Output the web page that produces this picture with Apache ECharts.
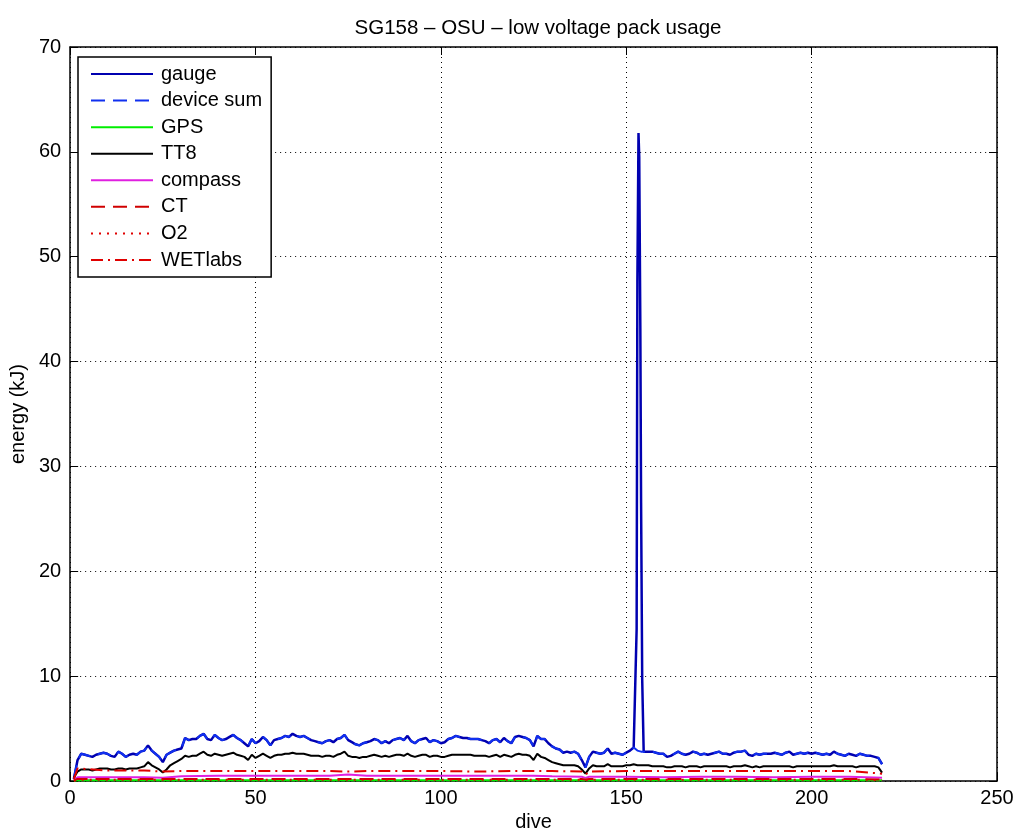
<!DOCTYPE html>
<html>
<head>
<meta charset="utf-8">
<script src="https://cdn.jsdelivr.net/npm/echarts@6/dist/echarts.min.js"></script>
<style>html,body{margin:0;padding:0;background:#fff}#c{width:1022px;height:839px}</style>
</head>
<body>
<div id="c"></div>
<script>
// gauge / device sum energy per dive (kJ), dives 1..219 (non-spike baseline)
const gaugeBase = [
0.2,2.0,2.6,2.5,2.4,2.3,2.5,2.6,2.7,2.6,2.4,2.3,2.8,2.6,2.3,2.5,2.6,2.5,2.8,2.9,
3.4,2.9,2.6,2.3,1.8,2.5,2.7,2.9,3.0,3.1,4.1,3.9,4.0,4.0,4.3,4.5,4.0,3.9,4.4,4.1,
3.9,4.0,4.2,4.4,4.1,3.9,3.6,3.3,4.0,3.6,3.8,4.2,3.9,3.4,3.9,4.0,4.1,4.3,4.2,4.5,
4.3,4.2,4.3,4.1,3.9,3.8,3.7,3.6,3.8,3.9,3.7,4.0,4.1,4.4,3.9,3.7,3.5,3.4,3.6,3.7,
3.8,4.0,3.9,3.6,3.8,3.6,3.9,4.0,4.1,3.9,4.3,3.8,3.6,3.9,4.0,4.1,3.7,3.9,3.8,3.6,
3.7,4.0,4.1,4.3,4.2,4.1,4.1,4.0,4.0,4.0,3.9,3.8,3.6,3.9,4.0,3.7,4.1,3.8,3.6,4.2,
4.3,4.2,4.1,3.9,3.3,4.3,4.0,4.0,3.6,3.3,3.1,3.0,2.7,2.8,2.7,2.8,2.6,2.0,1.3,2.3,
2.8,2.7,2.6,2.7,3.1,2.6,2.7,2.6,2.5,2.7,2.9,3.2,2.9,2.8,2.8,2.8,2.8,2.7,2.6,2.6,
2.3,2.4,2.6,2.8,2.6,2.5,2.6,2.8,2.7,2.5,2.6,2.5,2.6,2.7,2.8,2.6,2.6,2.5,2.7,2.8,
2.8,2.9,2.5,2.4,2.6,2.5,2.6,2.6,2.6,2.7,2.6,2.5,2.7,2.8,2.5,2.6,2.7,2.6,2.7,2.6,
2.7,2.6,2.5,2.6,2.5,2.8,2.6,2.5,2.4,2.6,2.5,2.4,2.6,2.5,2.4,2.4,2.3,2.2,1.6
];
// gauge spike around dive 153-154
const spikeDives = [152.8,152.9,153.0,153.3,153.5,153.8,154.0,154.3,154.7];
const spikeVals  = [14.5,31.4,47.6,61.8,59.5,43.0,26.5,9.7,2.8];
// TT8 per dive 1..219
const tt8 = [
0.3,0.9,1.1,1.1,1.1,1.0,1.1,1.2,1.2,1.2,1.1,1.1,1.2,1.2,1.1,1.2,1.2,1.2,1.3,1.4,
1.8,1.5,1.3,1.1,0.8,1.1,1.5,1.7,1.9,2.1,2.4,2.3,2.4,2.4,2.6,2.8,2.5,2.4,2.6,2.5,
2.4,2.5,2.6,2.7,2.5,2.4,2.3,2.0,2.5,2.2,2.4,2.6,2.4,2.2,2.4,2.5,2.5,2.6,2.6,2.7,
2.6,2.6,2.6,2.5,2.4,2.4,2.4,2.3,2.4,2.4,2.3,2.5,2.6,2.8,2.4,2.3,2.3,2.2,2.3,2.3,
2.4,2.5,2.4,2.3,2.4,2.3,2.4,2.5,2.5,2.4,2.6,2.4,2.3,2.4,2.5,2.5,2.3,2.4,2.4,2.3,
2.3,2.4,2.5,2.5,2.5,2.5,2.5,2.5,2.4,2.4,2.4,2.4,2.3,2.4,2.5,2.3,2.5,2.4,2.3,2.5,
2.6,2.5,2.5,2.4,2.0,2.6,2.3,2.2,2.0,1.8,1.7,1.6,1.5,1.5,1.5,1.5,1.4,1.1,0.7,1.2,
1.5,1.4,1.4,1.4,1.6,1.4,1.4,1.4,1.4,1.5,1.5,1.6,1.5,1.5,1.5,1.5,1.4,1.4,1.4,1.4,
1.3,1.3,1.4,1.4,1.4,1.3,1.4,1.4,1.4,1.3,1.4,1.4,1.4,1.4,1.4,1.4,1.4,1.3,1.4,1.4,
1.4,1.5,1.4,1.3,1.4,1.3,1.4,1.4,1.4,1.4,1.4,1.4,1.4,1.4,1.3,1.4,1.4,1.4,1.4,1.4,
1.4,1.4,1.4,1.4,1.4,1.5,1.4,1.4,1.4,1.4,1.4,1.3,1.4,1.4,1.4,1.4,1.4,1.3,0.8
];
// minor devices, read at selected dives
const minorDives = [1,2,10,20,25,30,40,50,60,70,75,80,90,100,110,120,125,130,138,139,140,150,160,170,180,190,200,210,219];
const compass = [0.1,0.35,0.35,0.35,0.3,0.45,0.5,0.5,0.5,0.5,0.62,0.5,0.5,0.5,0.5,0.5,0.5,0.45,0.4,0.3,0.4,0.4,0.35,0.4,0.4,0.35,0.4,0.4,0.3];
const wetlabs = [0.2,1.2,1.0,1.0,0.9,0.95,0.95,0.95,0.95,0.95,0.9,0.95,0.95,0.95,0.9,0.95,0.95,0.95,0.9,0.6,0.9,0.95,0.95,0.95,0.95,0.95,0.95,0.95,0.7];
const ct      = [0.05,0.2,0.2,0.2,0.2,0.2,0.2,0.2,0.2,0.2,0.2,0.2,0.2,0.2,0.2,0.2,0.2,0.2,0.2,0.15,0.2,0.2,0.2,0.2,0.2,0.2,0.2,0.2,0.15];
const o2      = [0.02,0.12,0.12,0.12,0.12,0.12,0.12,0.12,0.12,0.12,0.12,0.12,0.12,0.12,0.12,0.12,0.12,0.12,0.12,0.1,0.12,0.12,0.12,0.12,0.12,0.12,0.12,0.12,0.1];
const gps     = [0.02,0.08,0.08,0.08,0.08,0.08,0.08,0.08,0.08,0.08,0.08,0.08,0.08,0.08,0.08,0.08,0.08,0.08,0.08,0.08,0.08,0.08,0.08,0.08,0.08,0.08,0.08,0.08,0.08];

const legendNames = ['gauge','device sum','GPS','TT8','compass','CT','O2','WETlabs'];
const xTicks = {min:0, max:250, interval:50};
const yTicks = {min:0, max:70, interval:10};

function perDive(arr){ return arr.map((v,i)=>[i+1, v]); }
function pairs(xs, ys){ return xs.map((x,i)=>[x, ys[i]]); }

const gaugeData = perDive(gaugeBase).filter(p => p[0] < 152.5 || p[0] > 154.5)
  .concat(pairs(spikeDives, spikeVals)).sort((a,b)=>a[0]-b[0]);

const FONT = '"Liberation Sans", Helvetica, Arial, sans-serif';
const FS = 20;
const chart = echarts.init(document.getElementById('c'), null, {renderer:'canvas'});

function line(name, data, color, type, width){
  return {name, type:'line', data, symbol:'none', showSymbol:false, animation:false,
    lineStyle:{color, width:width||2, type:type||'solid'}, itemStyle:{color}};
}

const option = {
  animation:false,
  backgroundColor:'#fff',
  title:{text:'SG158 – OSU – low voltage pack usage', left:533, top:13, textAlign:'center',
    textStyle:{fontFamily:FONT, fontSize:20.5, fontWeight:'normal', color:'#000'}},
  grid:{left:70, right:25, top:47, bottom:58, containLabel:false},
  legend:{orient:'vertical', left:78, top:57, padding:[7,9,7,12], itemGap:6.57, itemWidth:62, itemHeight:20,
    itemStyle:{opacity:0},
    backgroundColor:'#fff', borderColor:'#000', borderWidth:1.5,
    textStyle:{fontFamily:FONT, fontSize:FS, lineHeight:20, color:'#000', padding:[0,0,0,3]},
    data:legendNames},
  xAxis:[
    {type:'value', min:xTicks.min, max:xTicks.max, interval:xTicks.interval, position:'bottom',
     name:'dive', nameLocation:'middle', nameGap:30,
     nameTextStyle:{fontFamily:FONT, fontSize:FS, color:'#000'},
     axisLine:{show:true, lineStyle:{color:'#000', width:1.5}},
     axisTick:{show:true, inside:true, length:8, lineStyle:{color:'#000'}},
     axisLabel:{fontFamily:FONT, fontSize:FS, color:'#000', margin:7},
     splitLine:{show:true, lineStyle:{color:'#000', type:[1,4], width:1}}},
    {type:'value', min:xTicks.min, max:xTicks.max, interval:xTicks.interval, position:'top',
     axisLine:{show:true, onZero:false, lineStyle:{color:'#000', width:1.5}},
     axisTick:{show:true, inside:true, length:8, lineStyle:{color:'#000'}},
     axisLabel:{show:false}, splitLine:{show:false}}
  ],
  yAxis:[
    {type:'value', min:yTicks.min, max:yTicks.max, interval:yTicks.interval, position:'left',
     name:'energy (kJ)', nameLocation:'middle', nameGap:42,
     nameTextStyle:{fontFamily:FONT, fontSize:FS, color:'#000'},
     axisLine:{show:true, lineStyle:{color:'#000', width:1.5}},
     axisTick:{show:true, inside:true, length:8, lineStyle:{color:'#000'}},
     axisLabel:{fontFamily:FONT, fontSize:FS, color:'#000', margin:9},
     splitLine:{show:true, lineStyle:{color:'#000', type:[1,4], width:1}}},
    {type:'value', min:yTicks.min, max:yTicks.max, interval:yTicks.interval, position:'right',
     axisLine:{show:true, onZero:false, lineStyle:{color:'#000', width:1.5}},
     axisTick:{show:true, inside:true, length:8, lineStyle:{color:'#000'}},
     axisLabel:{show:false}, splitLine:{show:false}}
  ],
  series:[
    line('gauge', gaugeData, '#0000b0', 'solid', 2.5),
    line('device sum', perDive(gaugeBase), '#1030f0', [14,8], 2),
    line('GPS', pairs(minorDives, gps), '#00ee00', 'solid', 2),
    line('TT8', perDive(tt8), '#000000', 'solid', 2),
    line('compass', pairs(minorDives, compass), '#e020e0', 'solid', 2),
    line('CT', pairs(minorDives, ct), '#d00000', [14,8], 2),
    line('O2', pairs(minorDives, o2), '#e00000', [2,6], 2),
    line('WETlabs', pairs(minorDives, wetlabs), '#e00000', [12,5,2,5], 2)
  ]
};
chart.setOption(option);
</script>
</body>
</html>
